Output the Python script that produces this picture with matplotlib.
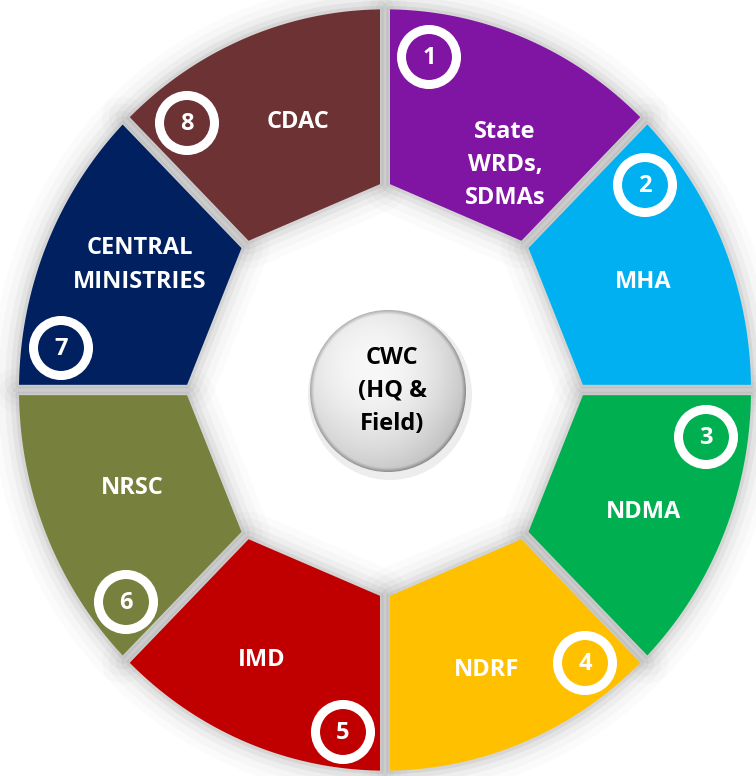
import numpy as np
import matplotlib.pyplot as plt
from matplotlib.patches import Polygon, Circle, Ellipse

# ---- content ----
labels = ["State\nWRDs,\nSDMAs", "MHA", "NDMA", "NDRF", "IMD", "NRSC",
          "CENTRAL\nMINISTRIES", "CDAC"]
numbers = ["1", "2", "3", "4", "5", "6", "7", "8"]
colors = ["#8014A3", "#00B0F0", "#00AF50", "#FFC000", "#C00000", "#77813D",
          "#002060", "#6D3233"]
centre_text = "CWC\n(HQ &\nField)"

# ---- layout (pixels) ----
label_xy = [(505, 165), (643, 282), (643, 512), (487, 670), (262, 660),
            (132, 488), (140, 265), (298, 122)]
badge_xy = [(429, 57), (645, 185), (706, 437), (585, 663), (343, 732),
            (126, 602), (61, 348), (187, 123)]

CX, CY, SY = 385, 390, 1.04
R_OUT, R_IN, GAP = 366, 200, 5

plt.rcParams['font.family'] = ['Open Sans', 'DejaVu Sans']

fig = plt.figure(figsize=(7.56, 7.76), dpi=100)
ax = fig.add_axes([0, 0, 1, 1])
ax.set_xlim(0, 756)
ax.set_ylim(776, 0)
ax.axis('off')


def to_px(p):
    p = np.atleast_2d(p)
    return np.c_[CX + p[:, 0], CY - SY * p[:, 1]]


def segment(theta_a, theta_b):
    ta, tb = np.radians(theta_a), np.radians(theta_b)
    da = np.arcsin(GAP / R_OUT)
    phi = np.linspace(ta - da, tb + da, 90)
    outer = np.c_[R_OUT * np.cos(phi), R_OUT * np.sin(phi)]
    va = R_IN * np.array([np.cos(ta), np.sin(ta)])
    vb = R_IN * np.array([np.cos(tb), np.sin(tb)])
    na = np.array([np.sin(ta), -np.cos(ta)])
    nb = np.array([-np.sin(tb), np.cos(tb)])
    ia = va + (vb - va) * GAP / np.dot(vb - va, na)
    ib = vb + (va - vb) * GAP / np.dot(va - vb, nb)
    return to_px(np.vstack([outer, ib, ia]))


polys = [segment(90 - 45 * i, 45 - 45 * i) for i in range(8)]

# soft shadow
for lw, a in [(40, 0.02), (30, 0.03), (20, 0.05), (12, 0.07), (5, 0.1)]:
    for pts in polys:
        ax.add_patch(Polygon(pts, closed=True, fc='none', ec='#606060',
                             lw=lw, alpha=a, joinstyle='round'))

for pts, c in zip(polys, colors):
    ax.add_patch(Polygon(pts, closed=True, fc=c, ec='none'))

for (x, y), lab in zip(label_xy, labels):
    ax.text(x, y, lab, ha='center', va='center', color='white',
            fontsize=17, fontweight='bold', linespacing=1.5)

for (x, y), n, c in zip(badge_xy, numbers, colors):
    ax.add_patch(Circle((x, y), 27.5, fc=c, ec='white', lw=6.5))
    ax.text(x, y + 1, n, ha='center', va='center', color='white',
            fontsize=17, fontweight='bold')

# centre sphere
sx, sy, srx, sry = 388, 391, 78, 81
gx, gy = np.meshgrid(np.linspace(-1, 1, 300), np.linspace(-1, 1, 300))
d = np.hypot(gx, gy)
hl = np.hypot(gx + 0.2, gy + 0.3)
val = 0.97 - 0.13 * np.clip(hl, 0, 1.4) ** 2
val += 0.06 * np.clip((gy - 0.4), 0, 1)
val -= 0.22 * np.clip((d - 0.95) / 0.05, 0, 1)
val = np.clip(val, 0, 1)
shadow = Ellipse((sx + 2, sy + 4), 2 * srx + 8, 2 * sry + 8, fc='#000000',
                 alpha=0.07, ec='none')
ax.add_patch(shadow)
sphere = Ellipse((sx, sy), 2 * srx, 2 * sry, fc='none', ec='none')
ax.add_patch(sphere)
im = ax.imshow(val, cmap='gray', vmin=0, vmax=1,
               extent=(sx - srx, sx + srx, sy + sry, sy - sry), zorder=2)
im.set_clip_path(sphere)
ax.text(sx + 4, sy, centre_text, ha='center', va='center', color='black',
        fontsize=17, fontweight='bold', linespacing=1.5, zorder=3)

fig.savefig('out.png', dpi=100)
